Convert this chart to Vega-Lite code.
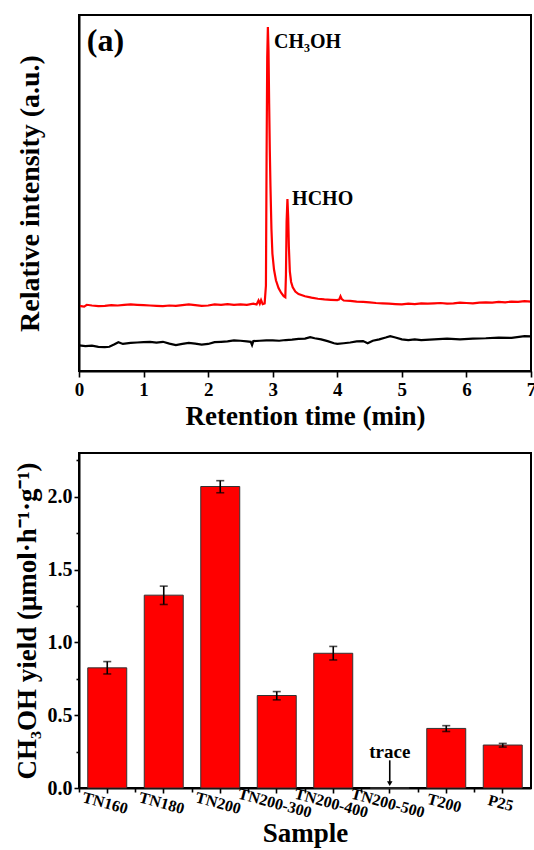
{
  "$schema": "https://vega.github.io/schema/vega-lite/v6.json",
  "padding": {"left": 12, "top": 13, "right": 0, "bottom": 0},
  "background": "white",
  "config": {
    "font": "Liberation Serif",
    "view": {"stroke": "black", "strokeWidth": 2},
    "axis": {
      "grid": false,
      "domainColor": "black",
      "domainWidth": 2,
      "tickColor": "black",
      "tickWidth": 1.6,
      "labelColor": "black",
      "labelFont": "Liberation Serif",
      "labelFontWeight": "bold",
      "titleFont": "Liberation Serif",
      "titleFontWeight": "bold",
      "titleColor": "black"
    }
  },
  "datasets": {
    "redtrace": [
      {"t": 0.0, "v": 18.3}, {"t": 0.08, "v": 18.1}, {"t": 0.12, "v": 18.6}, {"t": 0.2, "v": 18.4},
      {"t": 0.3, "v": 18.2}, {"t": 0.4, "v": 18.3}, {"t": 0.5, "v": 18.5}, {"t": 0.6, "v": 18.4},
      {"t": 0.7, "v": 18.6}, {"t": 0.8, "v": 18.7}, {"t": 0.9, "v": 18.6}, {"t": 1.0, "v": 18.5},
      {"t": 1.1, "v": 18.4}, {"t": 1.2, "v": 18.3}, {"t": 1.3, "v": 18.2}, {"t": 1.4, "v": 18.4},
      {"t": 1.5, "v": 18.3}, {"t": 1.6, "v": 18.5}, {"t": 1.7, "v": 18.7}, {"t": 1.8, "v": 18.5},
      {"t": 1.9, "v": 18.3}, {"t": 2.0, "v": 18.4}, {"t": 2.1, "v": 18.7}, {"t": 2.2, "v": 18.6},
      {"t": 2.3, "v": 18.8}, {"t": 2.4, "v": 18.6}, {"t": 2.5, "v": 18.7}, {"t": 2.6, "v": 18.6},
      {"t": 2.7, "v": 18.9}, {"t": 2.75, "v": 18.7}, {"t": 2.78, "v": 19.8}, {"t": 2.8, "v": 18.9},
      {"t": 2.82, "v": 19.9}, {"t": 2.845, "v": 18.8}, {"t": 2.875, "v": 19.0}, {"t": 2.895, "v": 24},
      {"t": 2.905, "v": 60}, {"t": 2.915, "v": 88}, {"t": 2.925, "v": 96.6}, {"t": 2.935, "v": 90},
      {"t": 2.945, "v": 75}, {"t": 2.955, "v": 62}, {"t": 2.965, "v": 52}, {"t": 2.98, "v": 40},
      {"t": 2.995, "v": 33}, {"t": 3.02, "v": 28.5}, {"t": 3.05, "v": 25.5}, {"t": 3.09, "v": 23.3},
      {"t": 3.13, "v": 22}, {"t": 3.17, "v": 21}, {"t": 3.195, "v": 20.7}, {"t": 3.205, "v": 27},
      {"t": 3.215, "v": 42}, {"t": 3.228, "v": 48.3}, {"t": 3.24, "v": 43}, {"t": 3.25, "v": 35},
      {"t": 3.265, "v": 28}, {"t": 3.285, "v": 25}, {"t": 3.31, "v": 23.5}, {"t": 3.35, "v": 22.3},
      {"t": 3.4, "v": 21.6}, {"t": 3.5, "v": 21}, {"t": 3.6, "v": 20.6}, {"t": 3.7, "v": 20.3},
      {"t": 3.8, "v": 20.1}, {"t": 3.9, "v": 20.0}, {"t": 4.0, "v": 19.9}, {"t": 4.03, "v": 20.1},
      {"t": 4.05, "v": 21.0}, {"t": 4.07, "v": 20.2}, {"t": 4.1, "v": 19.8}, {"t": 4.2, "v": 19.7},
      {"t": 4.3, "v": 19.5}, {"t": 4.4, "v": 19.4}, {"t": 4.5, "v": 19.3}, {"t": 4.6, "v": 19.1},
      {"t": 4.7, "v": 19.0}, {"t": 4.8, "v": 18.9}, {"t": 4.9, "v": 18.8}, {"t": 5.0, "v": 18.7},
      {"t": 5.1, "v": 18.9}, {"t": 5.2, "v": 18.8}, {"t": 5.3, "v": 19.0}, {"t": 5.4, "v": 18.9},
      {"t": 5.5, "v": 19.0}, {"t": 5.6, "v": 19.1}, {"t": 5.7, "v": 18.9}, {"t": 5.8, "v": 19.0},
      {"t": 5.9, "v": 19.2}, {"t": 6.0, "v": 19.1}, {"t": 6.1, "v": 19.0}, {"t": 6.2, "v": 19.2},
      {"t": 6.3, "v": 19.3}, {"t": 6.4, "v": 19.2}, {"t": 6.5, "v": 19.4}, {"t": 6.6, "v": 19.3},
      {"t": 6.7, "v": 19.5}, {"t": 6.8, "v": 19.4}, {"t": 6.9, "v": 19.6}, {"t": 7.0, "v": 19.5}
    ],
    "blanktrace": [
      {"t": 0.0, "v": 7.2}, {"t": 0.1, "v": 7.0}, {"t": 0.2, "v": 7.1}, {"t": 0.3, "v": 6.8},
      {"t": 0.4, "v": 6.7}, {"t": 0.47, "v": 6.8}, {"t": 0.55, "v": 7.5}, {"t": 0.61, "v": 8.1},
      {"t": 0.68, "v": 7.6}, {"t": 0.8, "v": 7.9}, {"t": 0.9, "v": 8.0}, {"t": 1.0, "v": 8.1},
      {"t": 1.1, "v": 8.2}, {"t": 1.2, "v": 8.0}, {"t": 1.3, "v": 8.2}, {"t": 1.4, "v": 7.7},
      {"t": 1.5, "v": 7.3}, {"t": 1.6, "v": 7.6}, {"t": 1.7, "v": 7.9}, {"t": 1.8, "v": 7.7},
      {"t": 1.9, "v": 7.4}, {"t": 2.0, "v": 7.6}, {"t": 2.1, "v": 8.1}, {"t": 2.2, "v": 8.2},
      {"t": 2.3, "v": 8.3}, {"t": 2.4, "v": 8.6}, {"t": 2.5, "v": 8.5}, {"t": 2.6, "v": 8.3},
      {"t": 2.66, "v": 8.2}, {"t": 2.68, "v": 7.3}, {"t": 2.7, "v": 8.4}, {"t": 2.8, "v": 8.5},
      {"t": 2.9, "v": 8.6}, {"t": 3.0, "v": 8.6}, {"t": 3.1, "v": 8.5}, {"t": 3.2, "v": 8.7},
      {"t": 3.3, "v": 8.8}, {"t": 3.4, "v": 9.0}, {"t": 3.5, "v": 9.1}, {"t": 3.58, "v": 9.5},
      {"t": 3.65, "v": 9.2}, {"t": 3.75, "v": 8.9}, {"t": 3.85, "v": 8.4}, {"t": 3.95, "v": 7.8},
      {"t": 4.0, "v": 7.6}, {"t": 4.1, "v": 7.8}, {"t": 4.2, "v": 8.0}, {"t": 4.3, "v": 8.3},
      {"t": 4.4, "v": 8.4}, {"t": 4.47, "v": 7.8}, {"t": 4.55, "v": 8.5}, {"t": 4.65, "v": 8.9},
      {"t": 4.75, "v": 9.4}, {"t": 4.82, "v": 9.8}, {"t": 4.9, "v": 9.4}, {"t": 5.0, "v": 8.9},
      {"t": 5.1, "v": 8.7}, {"t": 5.2, "v": 8.9}, {"t": 5.3, "v": 8.7}, {"t": 5.5, "v": 8.9},
      {"t": 5.7, "v": 9.1}, {"t": 5.9, "v": 8.9}, {"t": 6.1, "v": 9.1}, {"t": 6.3, "v": 9.2},
      {"t": 6.5, "v": 9.4}, {"t": 6.7, "v": 9.3}, {"t": 6.9, "v": 9.8}, {"t": 7.0, "v": 9.7}
    ],
    "frame": [{"t0": 0, "t1": 7, "v0": 0, "v1": 100}],
    "peaklabels": [
      {"t": 3.02, "v": 92.4, "label": "CH₃OH"},
      {"t": 3.3, "v": 48.3, "label": "HCHO"}
    ],
    "panellabel": [{"t": 0.12, "v": 92.7, "label": "(a)"}],
    "yields": [
      {"sample": "TN160", "yield": 0.825, "lo": 0.783, "hi": 0.868},
      {"sample": "TN180", "yield": 1.324, "lo": 1.26, "hi": 1.386},
      {"sample": "TN200", "yield": 2.07, "lo": 2.027, "hi": 2.11},
      {"sample": "TN200-300", "yield": 0.635, "lo": 0.605, "hi": 0.662},
      {"sample": "TN200-400", "yield": 0.925, "lo": 0.879, "hi": 0.972},
      {"sample": "TN200-500", "yield": 0},
      {"sample": "T200", "yield": 0.409, "lo": 0.388, "hi": 0.428},
      {"sample": "P25", "yield": 0.295, "lo": 0.281, "hi": 0.306}
    ],
    "tracenote": [{"sample": "TN200-500", "v": 0.25, "top": 0.19, "bottom": 0.04, "tip": 0.03, "label": "trace"}]
  },
  "vconcat": [
    {
      "width": 452,
      "height": 356,
      "view": {"stroke": "black", "strokeWidth": 2},
      "layer": [
        {
          "data": {"name": "redtrace"},
          "mark": {"type": "line", "color": "#ff0000", "strokeWidth": 2.2},
          "encoding": {
            "x": {
              "field": "t", "type": "quantitative",
              "scale": {"domain": [0, 7], "nice": false, "zero": false},
              "axis": {
                "orient": "bottom",
                "values": [0, 0.5, 1, 1.5, 2, 2.5, 3, 3.5, 4, 4.5, 5, 5.5, 6, 6.5, 7],
                "labelExpr": "datum.value % 1 === 0 ? format(datum.value, 'd') : ''",
                "tickSize": {"condition": {"test": "datum.value % 1 !== 0", "value": 4}, "value": 6},
                "labelFontSize": 19,
                "labelPadding": 3,
                "labelFlush": false,
                "labelOverlap": false,
                "labelBound": false,
                "title": "Retention time (min)",
                "titleFontSize": 27,
                "titlePadding": 4
              }
            },
            "y": {
              "field": "v", "type": "quantitative",
              "scale": {"domain": [0, 100], "nice": false},
              "axis": {
                "orient": "left",
                "values": [0],
                "tickSize": 0,
                "labels": false,
                "title": "Relative intensity (a.u.)",
                "titleFontSize": 28,
                "titlePadding": 34
              }
            }
          }
        },
        {
          "data": {"name": "blanktrace"},
          "mark": {"type": "line", "color": "black", "strokeWidth": 2.2},
          "encoding": {
            "x": {"field": "t", "type": "quantitative"},
            "y": {"field": "v", "type": "quantitative"}
          }
        },
        {
          "data": {"name": "peaklabels"},
          "mark": {"type": "text", "align": "left", "baseline": "middle", "fontSize": 20, "fontWeight": "bold", "color": "black"},
          "encoding": {
            "x": {"field": "t", "type": "quantitative"},
            "y": {"field": "v", "type": "quantitative"},
            "text": {"field": "label"}
          }
        },
        {
          "data": {"name": "panellabel"},
          "mark": {"type": "text", "align": "left", "baseline": "middle", "fontSize": 32, "fontWeight": "bold", "color": "black"},
          "encoding": {
            "x": {"field": "t", "type": "quantitative"},
            "y": {"field": "v", "type": "quantitative"},
            "text": {"field": "label"}
          }
        },
        {
          "data": {"name": "frame"},
          "mark": {"type": "rect", "fill": "transparent", "stroke": "black", "strokeWidth": 2, "clip": false},
          "encoding": {
            "x": {"field": "t0", "type": "quantitative"},
            "x2": {"field": "t1"},
            "y": {"field": "v0", "type": "quantitative"},
            "y2": {"field": "v1"}
          }
        }
      ]
    },
    {
      "width": 452,
      "height": 335,
      "layer": [
        {
          "data": {"name": "yields"},
          "mark": {"type": "bar", "color": "#ff0000", "stroke": "#333333", "strokeWidth": 1, "width": {"band": 0.69}},
          "encoding": {
            "x": {
              "field": "sample", "type": "nominal", "sort": null,
              "scale": {"domain": ["TN160", "TN180", "TN200", "TN200-300", "TN200-400", "TN200-500", "T200", "P25"], "paddingInner": 0, "paddingOuter": 0},
              "axis": {
                "orient": "bottom",
                "tickSize": 5,
                "labelAngle": 15,
                "labelAlign": "center",
                "labelBaseline": "top",
                "labelFontSize": 16,
                "labelPadding": 2,
                "labelOverlap": false,
                "labelBound": false,
                "title": "Sample",
                "titleFontSize": 27,
                "titlePadding": 0
              }
            },
            "y": {
              "field": "yield", "type": "quantitative",
              "scale": {"domain": [0, 2.3], "nice": false},
              "axis": {
                "orient": "left",
                "values": [0, 0.5, 1, 1.5, 2],
                "format": ".1f",
                "tickSize": 5,
                "labelFontSize": 20,
                "labelPadding": 2,
                "title": "CH₃OH yield (μmol·h⁻¹·g⁻¹)",
                "titleFontSize": 27,
                "titlePadding": 6
              }
            }
          }
        },
        {
          "data": {"name": "yields"},
          "mark": {"type": "rule", "color": "black", "strokeWidth": 1.6},
          "encoding": {
            "x": {
              "field": "sample", "type": "nominal", "sort": null,
              "axis": {
                "orient": "bottom",
                "bandPosition": 0,
                "labels": false,
                "domain": false,
                "tickSize": 4,
                "title": null
              }
            },
            "y": {
              "field": "lo", "type": "quantitative",
              "axis": {
                "orient": "left",
                "values": [0.25, 0.75, 1.25, 1.75, 2.25],
                "labels": false,
                "domain": false,
                "tickSize": 3,
                "title": null
              }
            },
            "y2": {"field": "hi"}
          }
        },
        {
          "data": {"name": "yields"},
          "mark": {"type": "tick", "color": "black", "thickness": 1.6, "size": 8, "orient": "horizontal"},
          "encoding": {
            "x": {"field": "sample", "type": "nominal", "sort": null, "axis": null},
            "y": {"field": "lo", "type": "quantitative", "axis": null}
          }
        },
        {
          "data": {"name": "yields"},
          "mark": {"type": "tick", "color": "black", "thickness": 1.6, "size": 8, "orient": "horizontal"},
          "encoding": {
            "x": {"field": "sample", "type": "nominal", "sort": null, "axis": null},
            "y": {"field": "hi", "type": "quantitative", "axis": null}
          }
        },
        {
          "data": {"name": "tracenote"},
          "mark": {"type": "text", "align": "center", "baseline": "middle", "fontSize": 19, "fontWeight": "bold", "color": "black"},
          "encoding": {
            "x": {"field": "sample", "type": "nominal", "sort": null, "axis": null},
            "y": {"field": "v", "type": "quantitative", "axis": null},
            "text": {"field": "label"}
          }
        },
        {
          "data": {"name": "tracenote"},
          "mark": {"type": "rule", "color": "black", "strokeWidth": 1.6},
          "encoding": {
            "x": {"field": "sample", "type": "nominal", "sort": null, "axis": null},
            "y": {"field": "top", "type": "quantitative", "axis": null},
            "y2": {"field": "bottom"}
          }
        },
        {
          "data": {"name": "tracenote"},
          "mark": {"type": "point", "shape": "triangle-down", "filled": true, "color": "black", "size": 30, "opacity": 1},
          "encoding": {
            "x": {"field": "sample", "type": "nominal", "sort": null, "axis": null},
            "y": {"field": "tip", "type": "quantitative", "axis": null}
          }
        }
      ],
      "resolve": {"axis": {"x": "independent", "y": "independent"}}
    }
  ],
  "spacing": 22
}
